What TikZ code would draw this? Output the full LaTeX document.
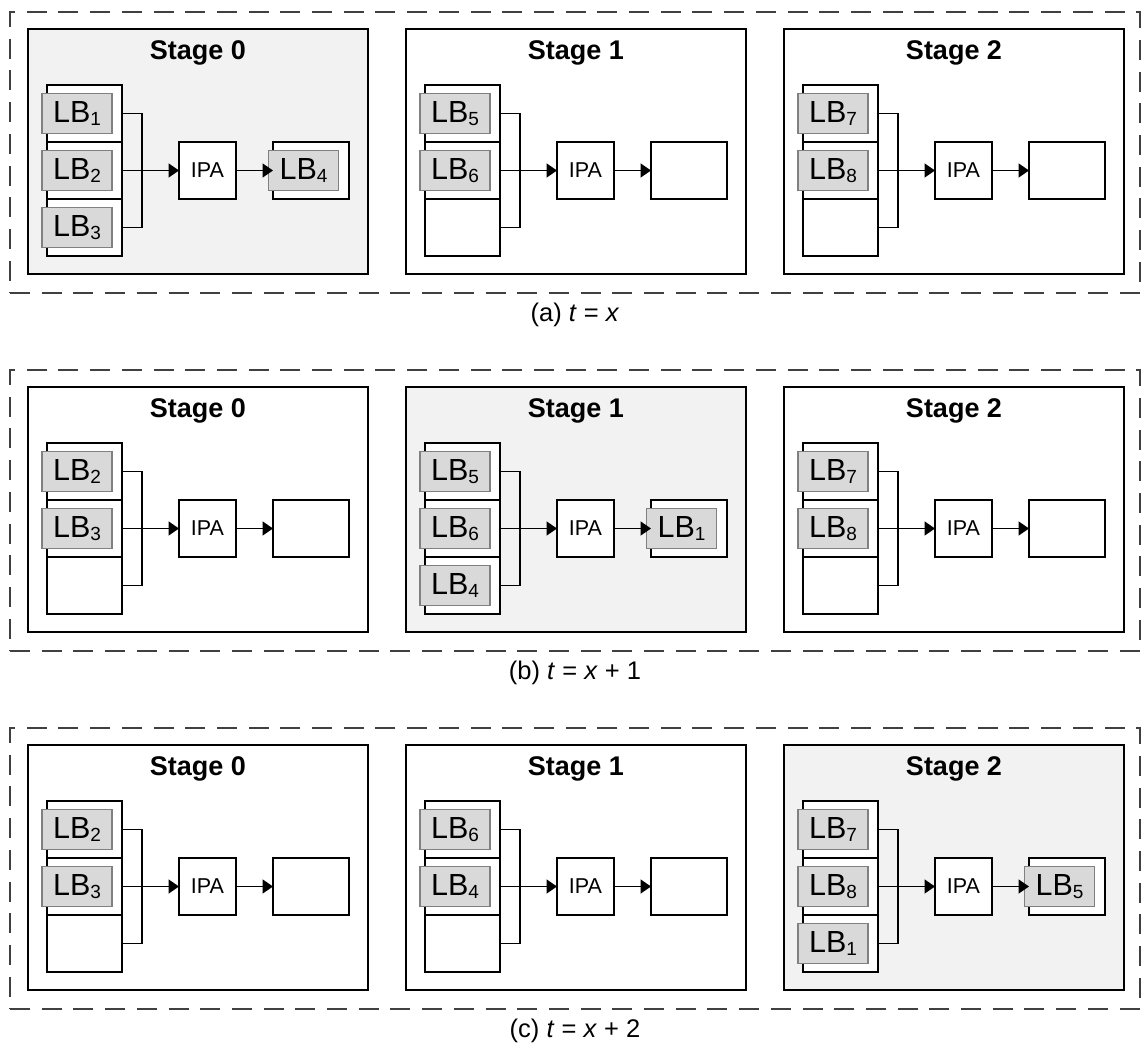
\documentclass[tikz,border=0pt]{standalone}
\usepackage{fontspec}
\setmainfont{Liberation Sans}
\usetikzlibrary{arrows.meta}
\definecolor{activefill}{HTML}{F2F2F2}
\definecolor{lbfill}{HTML}{D9D9D9}
\definecolor{lbdraw}{HTML}{808080}
\definecolor{framecol}{HTML}{404040}
\newcommand\lbtext[1]{LB\raisebox{-2.5pt}{\fontsize{19}{19}\selectfont #1}}
\tikzset{
  stagebox/.style={draw, line width=1.9pt, minimum width=340pt, minimum height=245pt, inner sep=0pt, outer sep=0pt},
  slotbox/.style={draw, fill=white, line width=1.7pt, minimum width=75pt, minimum height=57pt, inner sep=0pt, outer sep=0pt},
  ipabox/.style={draw, fill=white, line width=1.7pt, minimum width=57pt, minimum height=57pt, inner sep=0pt, outer sep=0pt, font=\fontsize{21.5}{21.5}\selectfont},
  outbox/.style={slotbox, minimum width=76pt},
  lbbox/.style={draw=lbdraw, fill=lbfill, line width=1.6pt, minimum width=70pt, minimum height=40pt, inner sep=0pt, outer sep=0pt, font=\fontsize{30.5}{30.5}\selectfont},
  link/.style={line width=1.7pt},
  arr/.style={link, -{Triangle[length=10.5pt,width=14pt]}},
  stagetitle/.style={font=\fontsize{27}{27}\selectfont\bfseries},
  frame/.style={draw=framecol, line width=1.4pt, dash pattern=on 20pt off 11.7pt, minimum width=1130pt, minimum height=281pt, inner sep=0pt, outer sep=0pt},
  caption/.style={font=\fontsize{25.5}{25.5}\selectfont}
}
% #1 name, #2 x0, #3 y0, #4 stage number, #5 fill, #6-#8 slots, #9 output
\newcommand\drawstage[9]{%
  \begin{scope}[shift={(#2,#3)}]
    \node[stagebox, fill=#5, anchor=north west] (#1-st) at (0,0) {};
    \node[stagetitle] (#1-ti) at (170,24) {Stage #4};
    \node[slotbox] (#1-s1) at (56.5,84.5) {};
    \node[slotbox] (#1-s2) at (56.5,141.5) {};
    \node[slotbox] (#1-s3) at (56.5,198.5) {};
    \ifx\relax#6\relax\else\node[lbbox, xshift=-7.5pt] (#1-l1) at (#1-s1) {\lbtext{#6}};\fi
    \ifx\relax#7\relax\else\node[lbbox, xshift=-7.5pt] (#1-l2) at (#1-s2) {\lbtext{#7}};\fi
    \ifx\relax#8\relax\else\node[lbbox, xshift=-7.5pt] (#1-l3) at (#1-s3) {\lbtext{#8}};\fi
    \node[ipabox] (#1-ipa) at (179.5,141.5) {IPA};
    \node[outbox] (#1-out) at (283,141.5) {};
    \ifx\relax#9\relax\else\node[lbbox, xshift=-7.5pt] (#1-lo) at (#1-out) {\lbtext{#9}};\fi
    \coordinate (#1-br) at (114,0);
    \draw[link] (#1-s1.east) -- (#1-s1.east -| #1-br) -- (#1-s3.east -| #1-br) -- (#1-s3.east);
    \draw[arr] (#1-s2.east) -- (#1-ipa.west);
    \draw[arr] (#1-ipa.east) -- (#1-out.west);
  \end{scope}%
}
\begin{document}
\begin{tikzpicture}[x=1pt, y=-1pt]
  \useasboundingbox (0,0) rectangle (1142,1044);
  % panel (a)
  \node[frame, anchor=north west] (pa-frame) at (10,12) {};
  \drawstage{pa0}{28}{29}{0}{activefill}{1}{2}{3}{4}
  \drawstage{pa1}{406}{29}{1}{white}{5}{6}{}{}
  \drawstage{pa2}{784}{29}{2}{white}{7}{8}{}{}
  \node[caption] (pa-cap) at (575,315) {(a) \textit{t} = \textit{x}};
  % panel (b)
  \node[frame, anchor=north west] (pb-frame) at (10,370) {};
  \drawstage{pb0}{28}{387}{0}{white}{2}{3}{}{}
  \drawstage{pb1}{406}{387}{1}{activefill}{5}{6}{4}{1}
  \drawstage{pb2}{784}{387}{2}{white}{7}{8}{}{}
  \node[caption] (pb-cap) at (575,673) {(b) \textit{t} = \textit{x} + 1};
  % panel (c)
  \node[frame, anchor=north west] (pc-frame) at (10,728) {};
  \drawstage{pc0}{28}{745}{0}{white}{2}{3}{}{}
  \drawstage{pc1}{406}{745}{1}{white}{6}{4}{}{}
  \drawstage{pc2}{784}{745}{2}{activefill}{7}{8}{1}{5}
  \node[caption] (pc-cap) at (575,1031) {(c) \textit{t} = \textit{x} + 2};
\end{tikzpicture}
\end{document}
